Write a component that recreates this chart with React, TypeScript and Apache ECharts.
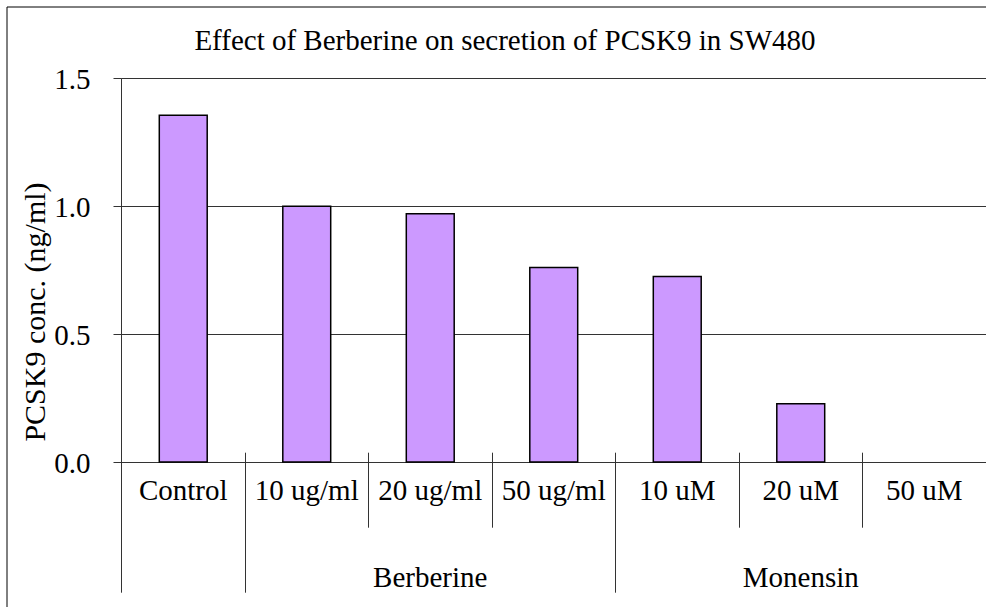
import React, { useEffect, useRef } from "react";
import * as echarts from "echarts";

const categories = ["Control", "10 ug/ml", "20 ug/ml", "50 ug/ml", "10 uM", "20 uM", "50 uM"];
const values = [1.36, 1.005, 0.975, 0.765, 0.73, 0.233, 0];
const groupLabels = ["", "", "Berberine", "", "", "Monensin", ""];
const groupBoundaries = [0, 1, 4];
const yTicks = { min: 0, max: 1.5, interval: 0.5 };
const titleText = "Effect of Berberine on secretion of PCSK9 in SW480";
const yName = "PCSK9 conc. (ng/ml)";

const FONT = "Liberation Serif";
const FS = 29;

export default function App() {
  const ref = useRef<HTMLDivElement>(null);
  useEffect(() => {
    if (!ref.current) return;
    const chart = echarts.init(ref.current, undefined, { renderer: "svg" });
    const lineCol = "#333";
    chart.setOption({
      animation: false,
      backgroundColor: "#fff",
      title: {
        text: titleText,
        left: 500,
        top: 20,
        textAlign: "center",
        textStyle: { fontFamily: FONT, fontSize: FS, fontWeight: "normal", color: "#000" },
      },
      grid: { left: 121.5, top: 78.7, right: -6, bottom: 144.3, containLabel: false },
      graphic: [
        {
          type: "rect",
          shape: { x: 7, y: 7, width: 1200, height: 1200 },
          style: { fill: "none", stroke: "#000", lineWidth: 1 },
          silent: true,
        },
        {
          type: "text",
          x: 34,
          y: 312,
          rotation: Math.PI / 2,
          style: {
            text: yName,
            fontFamily: FONT,
            fontSize: 30,
            fill: "#000",
            align: "center",
            verticalAlign: "middle",
          },
        },
      ],
      xAxis: [
        {
          type: "category",
          data: categories,
          position: "bottom",
          axisLine: { show: true, lineStyle: { color: lineCol, width: 1 } },
          axisTick: { show: true, length: 65, lineStyle: { color: lineCol, width: 1 } },
          axisLabel: { interval: 0, margin: 13, fontFamily: FONT, fontSize: FS, color: "#000" },
        },
        {
          type: "category",
          data: categories,
          position: "bottom",
          axisLine: { show: false },
          axisTick: { show: true, inside: true, length: 10, lineStyle: { color: lineCol, width: 1 } },
          axisLabel: { show: false },
        },
        {
          type: "category",
          data: groupLabels,
          position: "bottom",
          axisLine: { show: false },
          axisTick: {
            show: true,
            length: 130,
            interval: (index: number) => groupBoundaries.indexOf(index) >= 0,
            lineStyle: { color: lineCol, width: 1 },
          },
          axisLabel: { interval: 0, margin: 100, fontFamily: FONT, fontSize: FS, color: "#000" },
        },
      ],
      yAxis: {
        type: "value",
        min: yTicks.min,
        max: yTicks.max,
        interval: yTicks.interval,
        axisLine: { show: true, lineStyle: { color: lineCol, width: 1 } },
        axisTick: { show: true, length: 8, lineStyle: { color: lineCol, width: 1 } },
        axisLabel: {
          margin: 31,
          fontFamily: FONT,
          fontSize: FS,
          color: "#000",
          formatter: (v: number) => v.toFixed(1),
        },
        splitLine: { show: true, lineStyle: { color: lineCol, width: 1 } },
      },
      series: [
        {
          type: "bar",
          data: values.map((v) => (v === 0 ? { value: v, itemStyle: { borderWidth: 0 } } : v)),
          xAxisIndex: 0,
          yAxisIndex: 0,
          barWidth: "40%",
          itemStyle: { color: "#CC99FF", borderColor: "#000", borderWidth: 1.5 },
        },
      ],
    });
    return () => chart.dispose();
  }, []);
  return (
    <div
      ref={ref}
      style={{ position: "fixed", left: 0, top: 0, width: 986, height: 607 }}
    />
  );
}
